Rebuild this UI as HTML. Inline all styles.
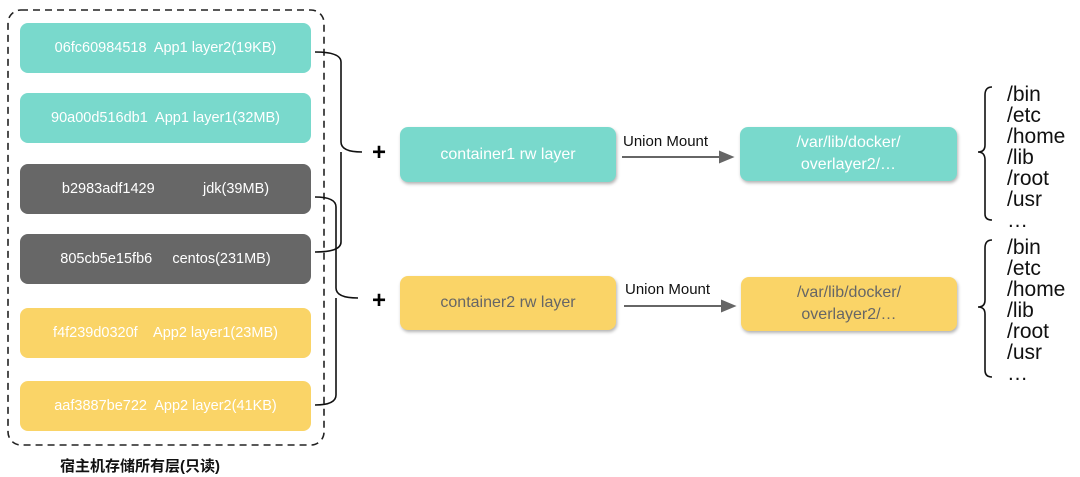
<!DOCTYPE html>
<html><head><meta charset="utf-8"><style>
body{margin:0;width:1080px;height:477px;background:#fff;position:relative;overflow:hidden;font-family:"Liberation Sans","Noto Sans CJK SC",sans-serif}
.b{position:absolute;border-radius:8px;color:#fff;font-size:14.5px;display:flex;align-items:center;justify-content:center;white-space:pre}
.t{background:#79d9cc}.g{background:#676767}.y{background:#fad467}
.s{box-shadow:1px 2px 3px rgba(0,0,0,.3)}
.l{position:absolute;font-size:21px;line-height:21px;color:#111}
</style></head><body>
<svg width="1080" height="477" style="position:absolute;left:0;top:0">
<rect x="8" y="10" width="316" height="435" rx="13" fill="none" stroke="#222" stroke-width="1.6" stroke-dasharray="7,5"/>
<g fill="none" stroke="#111" stroke-width="1.6">
<path d="M315 52 Q341 52 341 62 L341 142 Q341 152 362 152 M341 152 Q341 162 341 162 L341 242 Q341 252 315 252"/>
<path d="M315 197 Q336 197 336 207 L336 288 Q336 298 358 298 M336 298 L336 395 Q336 405 315 405"/>
<path d="M992 87 Q985 87 985 95 L985 145 Q985 152 978 152 Q985 152 985 160 L985 214 Q985 220 992 220"/>
<path d="M992 240 Q985 240 985 248 L985 300 Q985 307 978 307 Q985 307 985 314 L985 370 Q985 377 992 377"/>
</g>
<g stroke="#666" stroke-width="2" fill="#666">
<line x1="622" y1="157" x2="722" y2="157"/><polygon points="732,157 720,152 720,162"/>
<line x1="624" y1="306" x2="724" y2="306"/><polygon points="734,306 722,301 722,311"/>
</g>
<text x="372" y="160" font-size="24" font-weight="bold" font-family="Liberation Sans">+</text>
<text x="372" y="308" font-size="24" font-weight="bold" font-family="Liberation Sans">+</text>
<text x="623" y="146" font-size="15" fill="#111" font-family="Liberation Sans">Union Mount</text>
<text x="625" y="294" font-size="15" fill="#111" font-family="Liberation Sans">Union Mount</text>
</svg>
<div class="b t" style="left:20px;top:23px;width:291px;height:50px">06fc60984518  App1 layer2(19KB)</div>
<div class="b t" style="left:20px;top:93px;width:291px;height:50px">90a00d516db1  App1 layer1(32MB)</div>
<div class="b g" style="left:20px;top:164px;width:291px;height:50px">b2983adf1429            jdk(39MB)</div>
<div class="b g" style="left:20px;top:234px;width:291px;height:50px">805cb5e15fb6     centos(231MB)</div>
<div class="b y" style="left:20px;top:308px;width:291px;height:50px">f4f239d0320f    App2 layer1(23MB)</div>
<div class="b y" style="left:20px;top:381px;width:291px;height:50px">aaf3887be722  App2 layer2(41KB)</div>
<div class="b t s" style="left:400px;top:127px;width:216px;height:55px;font-size:16px">container1 rw layer</div>
<div class="b y s" style="left:400px;top:276px;width:216px;height:54px;font-size:16px;color:#666">container2 rw layer</div>
<div class="b t s" style="left:740px;top:127px;width:217px;height:54px;font-size:16px;line-height:22px;text-align:center">/var/lib/docker/
overlayer2/…</div>
<div class="b y s" style="left:741px;top:277px;width:216px;height:54px;font-size:16px;line-height:22px;text-align:center;color:#666">/var/lib/docker/
overlayer2/…</div>
<div class="l" style="left:1007px;top:84px">/bin<br>/etc<br>/home<br>/lib<br>/root<br>/usr<br>…</div>
<div class="l" style="left:1007px;top:237px">/bin<br>/etc<br>/home<br>/lib<br>/root<br>/usr<br>…</div>
<div style="position:absolute;left:60px;top:455px;font-size:15px;font-weight:bold;color:#111">宿主机存储所有层(只读)</div>
</body></html>
